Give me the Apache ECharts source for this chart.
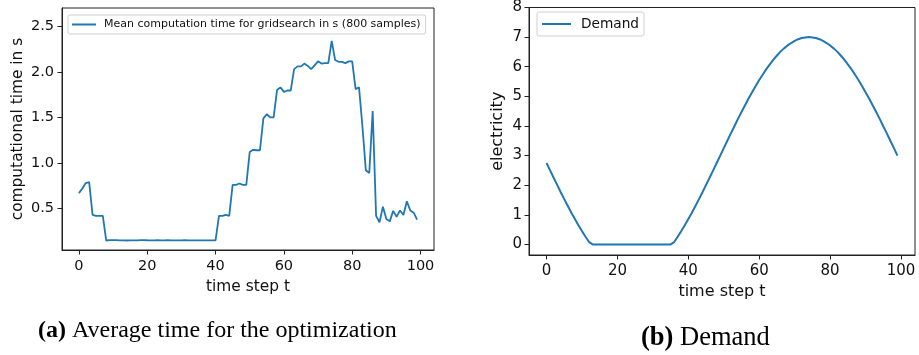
<!DOCTYPE html>
<html>
<head>
<meta charset="utf-8">
<script src="https://cdn.jsdelivr.net/npm/echarts@6/dist/echarts.min.js"></script>
<style>
  html, body { margin: 0; padding: 0; background: #fff; }
  #chart { width: 919px; height: 355px; }
</style>
</head>
<body>
<div id="chart"></div>
<script>
// time steps 0..99
const timeSteps = Array.from({ length: 100 }, (_, i) => i);

// (a) mean computation time of the grid search per time step, seconds
const meanTime = [
  0.67, 0.72, 0.78, 0.79, 0.43, 0.42, 0.42, 0.42, 0.15, 0.155,
  0.155, 0.155, 0.152, 0.152, 0.15, 0.152, 0.152, 0.152, 0.155, 0.155,
  0.153, 0.152, 0.152, 0.153, 0.152, 0.152, 0.154, 0.152, 0.152, 0.151,
  0.152, 0.153, 0.152, 0.152, 0.151, 0.152, 0.152, 0.152, 0.152, 0.152,
  0.152, 0.42, 0.42, 0.43, 0.42, 0.76, 0.76, 0.775, 0.76, 0.76,
  1.12, 1.145, 1.14, 1.14, 1.49, 1.535, 1.50, 1.50, 1.80, 1.83,
  1.78, 1.795, 1.795, 2.03, 2.06, 2.06, 2.09, 2.065, 2.03, 2.07,
  2.115, 2.09, 2.095, 2.095, 2.34, 2.13, 2.11, 2.11, 2.095, 2.115,
  2.115, 1.81, 1.83, 1.40, 0.92, 0.89, 1.57, 0.42, 0.35, 0.52,
  0.385, 0.36, 0.475, 0.41, 0.48, 0.43, 0.58, 0.48, 0.455, 0.38
];

// (b) electricity demand per time step
const demand = [
  2.75, 2.50, 2.25, 2.01, 1.76, 1.53, 1.30, 1.07, 0.86, 0.65,
  0.45, 0.26, 0.08, 0, 0, 0, 0, 0, 0, 0,
  0, 0, 0, 0, 0, 0, 0, 0, 0, 0,
  0, 0, 0, 0, 0, 0, 0.08, 0.26, 0.45, 0.65,
  0.86, 1.07, 1.30, 1.53, 1.76, 2.01, 2.25, 2.50, 2.75, 3.00,
  3.25, 3.50, 3.75, 3.99, 4.24, 4.47, 4.70, 4.93, 5.14, 5.35,
  5.55, 5.74, 5.92, 6.08, 6.24, 6.38, 6.51, 6.62, 6.72, 6.80,
  6.87, 6.93, 6.97, 6.99, 7.00, 6.99, 6.97, 6.93, 6.87, 6.80,
  6.72, 6.62, 6.51, 6.38, 6.24, 6.08, 5.92, 5.74, 5.55, 5.35,
  5.14, 4.93, 4.70, 4.47, 4.24, 3.99, 3.75, 3.50, 3.25, 3.00
];

// tick labels
const xTicks = [0, 20, 40, 60, 80, 100];
const timeTicks = [0.5, 1.0, 1.5, 2.0, 2.5];
const demandTicks = [0, 1, 2, 3, 4, 5, 6, 7, 8];

const BLUE = '#1f77b4';
const FONT = '"DejaVu Sans", sans-serif';
const SERIF = '"Liberation Serif", serif';
const INK = '#111';

function pairs(ys) {
  return timeSteps.map((t, i) => [t, ys[i]]);
}

function xAxisCfg(gridIndex, fontSize, nameSize, nameGap, labelMargin) {
  return {
    gridIndex,
    type: 'value',
    min: -4.95,
    max: 103.95,
    name: 'time step t',
    nameLocation: 'middle',
    nameGap,
    nameTextStyle: { fontFamily: FONT, fontSize: nameSize, color: INK },
    axisLine: { show: true, onZero: false, lineStyle: { color: '#222', width: 1 } },
    axisTick: { show: true, length: 4.5, lineStyle: { color: '#222' }, customValues: xTicks },
    axisLabel: { fontFamily: FONT, fontSize, color: INK, margin: labelMargin, customValues: xTicks },
    splitLine: { show: false }
  };
}

function yAxisCfg(gridIndex, min, max, ticks, fmt, name, fontSize, nameSize, nameGap, labelMargin) {
  return {
    gridIndex,
    type: 'value',
    min,
    max,
    name,
    nameLocation: 'middle',
    nameGap,
    nameTextStyle: { fontFamily: FONT, fontSize: nameSize, color: INK },
    axisLine: { show: true, onZero: false, lineStyle: { color: '#222', width: 1 } },
    axisTick: { show: true, length: 4.5, lineStyle: { color: '#222' }, customValues: ticks },
    axisLabel: { fontFamily: FONT, fontSize, color: INK, margin: labelMargin, customValues: ticks, formatter: fmt },
    splitLine: { show: false }
  };
}

const chart = echarts.init(document.getElementById('chart'), null, { renderer: 'canvas' });

chart.setOption({
  animation: false,
  backgroundColor: '#fff',
  grid: [
    { left: 62, top: 8, width: 372, height: 242, show: true, borderColor: '#222', borderWidth: 1, backgroundColor: 'transparent' },
    { left: 529, top: 5, width: 386, height: 250, show: true, borderColor: '#222', borderWidth: 1, backgroundColor: 'transparent' }
  ],
  xAxis: [
    xAxisCfg(0, 14.5, 15.4, 29, 9),
    xAxisCfg(1, 15, 16, 29, 8.5)
  ],
  yAxis: [
    yAxisCfg(0, 0.046, 2.70, timeTicks, v => v.toFixed(1), 'computational time in s', 14.5, 15.4, 37, 8),
    yAxisCfg(1, -0.357, 8, demandTicks, v => String(v), 'electricity', 15, 16, 23, 7)
  ],
  legend: [
    {
      data: ['Mean computation time for gridsearch in s (800 samples)'],
      left: 68, top: 15,
      icon: 'rect',
      itemWidth: 24, itemHeight: 2,
      padding: [4, 5, 4, 4],
      borderColor: '#d0d0d0', borderWidth: 1, borderRadius: 2,
      textStyle: { fontFamily: FONT, fontSize: 11, color: INK, padding: [0, 0, 0, 3] }
    },
    {
      data: ['Demand'],
      left: 537, top: 12,
      icon: 'rect',
      itemWidth: 29, itemHeight: 2,
      padding: [5, 5, 5, 5],
      borderColor: '#d0d0d0', borderWidth: 1, borderRadius: 2,
      textStyle: { fontFamily: FONT, fontSize: 13.7, color: INK, padding: [0, 0, 0, 5] }
    }
  ],
  series: [
    {
      name: 'Mean computation time for gridsearch in s (800 samples)',
      type: 'line',
      xAxisIndex: 0, yAxisIndex: 0,
      data: pairs(meanTime),
      symbol: 'none',
      lineStyle: { color: BLUE, width: 1.8 },
      itemStyle: { color: BLUE }
    },
    {
      name: 'Demand',
      type: 'line',
      xAxisIndex: 1, yAxisIndex: 1,
      data: pairs(demand),
      symbol: 'none',
      lineStyle: { color: BLUE, width: 2 },
      itemStyle: { color: BLUE }
    }
  ],
  graphic: [
    {
      type: 'text', left: 38, top: 319,
      style: {
        text: '{b|(a)} Average time for the optimization',
        font: '24px ' + SERIF,
        fill: '#000',
        rich: { b: { fontFamily: SERIF, fontSize: 24, fontWeight: 'bold', fill: '#000' } }
      }
    },
    {
      type: 'text', left: 641, top: 325,
      style: {
        text: '{b|(b)} Demand',
        font: '26.5px ' + SERIF,
        fill: '#000',
        rich: { b: { fontFamily: SERIF, fontSize: 26.5, fontWeight: 'bold', fill: '#000' } }
      }
    }
  ]
});
</script>
</body>
</html>
